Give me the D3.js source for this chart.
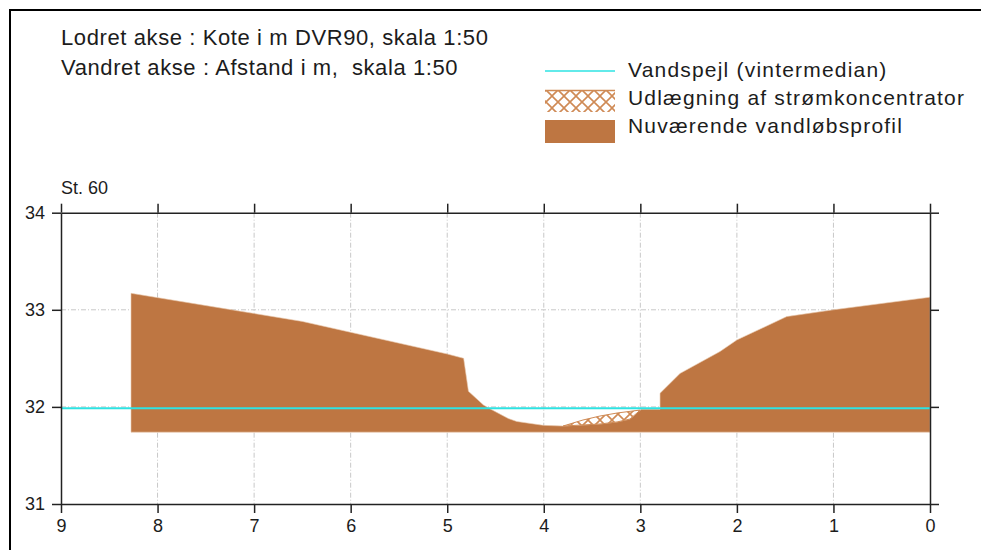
<!DOCTYPE html>
<html>
<head>
<meta charset="utf-8">
<script src="https://cdn.jsdelivr.net/npm/d3@7"></script>
<style>
  body { margin: 0; background: #fff; }
  text { font-family: "Liberation Sans", Arial, sans-serif; fill: #1c1c1c; white-space: pre; }
</style>
</head>
<body>
<svg id="chart" width="981" height="550"></svg>
<script>
// axis ticks
const xTicks = [9, 8, 7, 6, 5, 4, 3, 2, 1, 0];
const yTicks = [31, 32, 33, 34];

// current channel profile (distance m, kote m DVR90)
const profileDist = [8.275, 8.275, 6.50, 5.00, 4.83, 4.78, 4.625, 4.557, 4.367, 4.28, 4.14, 4.005,
  3.80, 3.594, 3.418, 3.241, 3.107, 3.024, 2.99, 2.796, 2.796, 2.589, 2.175, 2.0, 1.484, 1.0, 0.0, 0.0];
const profileKote = [31.74, 33.17, 32.88, 32.545, 32.50, 32.16, 32.02, 31.98, 31.88, 31.85, 31.83, 31.81,
  31.803, 31.814, 31.824, 31.845, 31.875, 31.947, 31.975, 31.975, 32.14, 32.345, 32.57, 32.69, 32.93, 33.0, 33.13, 31.74];

// flow concentrator fill (polygon: upper edge, then existing bed back)
const concDist = [3.80, 3.594, 3.418, 3.241, 3.076, 3.003, 3.024, 3.107, 3.241, 3.418, 3.594, 3.80];
const concKote = [31.803, 31.865, 31.906, 31.937, 31.958, 31.968, 31.947, 31.875, 31.845, 31.824, 31.814, 31.803];

// water level (winter median)
const waterKote = 31.985;

const headerLines = ['Lodret akse : Kote i m DVR90, skala 1:50', 'Vandret akse : Afstand i m,  skala 1:50'];
const legendLabels = ['Vandspejl (vintermedian)', 'Udlægning af strømkoncentrator', 'Nuværende vandløbsprofil'];
const stationLabel = 'St. 60';

const brown = '#be7642';
const hatchBrown = '#cf8a55';
const cyan = '#2ee3e3';

const svg = d3.select('#chart');

const x = d3.scaleLinear().domain([9, 0]).range([61, 930]);
const y = d3.scaleLinear().domain([31, 34]).range([504, 212.7]);

// hatch pattern
const defs = svg.append('defs');
const pat = defs.append('pattern')
  .attr('id', 'hatch')
  .attr('patternUnits', 'userSpaceOnUse')
  .attr('width', 12).attr('height', 12);
pat.append('rect').attr('width', 12).attr('height', 12).attr('fill', '#fff');
pat.append('path')
  .attr('d', 'M0,0L12,12M12,0L0,12')
  .attr('stroke', hatchBrown).attr('stroke-width', 1.6);

// outer frame
svg.append('rect')
  .attr('x', 10).attr('y', 10)
  .attr('width', 1000).attr('height', 600)
  .attr('fill', 'none')
  .attr('stroke', '#000').attr('stroke-width', 2);

// header text
svg.selectAll('.header')
  .data(headerLines)
  .join('text')
  .attr('class', 'header')
  .attr('x', 61)
  .attr('y', (d, i) => 45 + i * 30)
  .style('font-size', '22px')
  .style('letter-spacing', '0.6px')
  .text(d => d);

// legend
const lg = svg.append('g');
lg.append('line')
  .attr('x1', 545).attr('x2', 615).attr('y1', 71).attr('y2', 71)
  .attr('stroke', cyan).attr('stroke-width', 1.5);
lg.append('rect')
  .attr('x', 545).attr('y', 90).attr('width', 70).attr('height', 22)
  .attr('fill', 'url(#hatch)');
lg.append('line')
  .attr('x1', 545).attr('x2', 615).attr('y1', 90.5).attr('y2', 90.5)
  .attr('stroke', hatchBrown).attr('stroke-width', 1.5);
lg.append('rect')
  .attr('x', 545).attr('y', 120).attr('width', 70).attr('height', 23)
  .attr('fill', brown);
lg.selectAll('.legtext')
  .data(legendLabels)
  .join('text')
  .attr('class', 'legtext')
  .attr('x', 628)
  .attr('y', (d, i) => 77 + i * 28)
  .style('font-size', '21px')
  .style('letter-spacing', '1.2px')
  .text(d => d);

// station label
svg.append('text')
  .attr('x', 61).attr('y', 194)
  .style('font-size', '18px')
  .text(stationLabel);

// grid
const grid = svg.append('g')
  .attr('stroke', '#c8c8c8')
  .attr('stroke-width', 1)
  .attr('stroke-dasharray', '5,2,1,2');
grid.selectAll('.gx')
  .data(xTicks.slice(1, -1))
  .join('line')
  .attr('x1', d => x(d)).attr('x2', d => x(d))
  .attr('y1', y(34)).attr('y2', y(31));
grid.selectAll('.gy')
  .data(yTicks.slice(1, -1))
  .join('line')
  .attr('y1', d => y(d)).attr('y2', d => y(d))
  .attr('x1', x(9)).attr('x2', x(0));

// profile
const pts = profileDist.map((d, i) => [x(d), y(profileKote[i])]);
svg.append('path')
  .attr('d', d3.line()(pts) + 'Z')
  .attr('fill', brown)
  .attr('stroke', '#e9c9ae')
  .attr('stroke-width', 0.6);

// concentrator
const cpts = concDist.map((d, i) => [x(d), y(concKote[i])]);
svg.append('path')
  .attr('d', d3.line()(cpts) + 'Z')
  .attr('fill', 'url(#hatch)')
  .attr('stroke', hatchBrown)
  .attr('stroke-width', 1);

// water level
svg.append('line')
  .attr('x1', x(9)).attr('x2', x(0))
  .attr('y1', y(waterKote)).attr('y2', y(waterKote))
  .attr('stroke', cyan).attr('stroke-width', 2);

// axes
function styleAxis(g) {
  g.selectAll('path, line').attr('stroke', '#222').attr('stroke-width', 1.5);
  g.selectAll('text').style('font-family', '"Liberation Sans", Arial, sans-serif')
    .style('font-size', '18px').attr('fill', '#1c1c1c');
}

svg.append('g')
  .attr('transform', `translate(0,${y(31)})`)
  .call(d3.axisBottom(x).tickValues(xTicks).tickFormat(d3.format('d')).tickSize(9).tickSizeOuter(0).tickPadding(6))
  .call(styleAxis);
svg.append('g')
  .attr('transform', `translate(0,${y(34)})`)
  .call(d3.axisTop(x).tickValues(xTicks).tickFormat('').tickSize(9).tickSizeOuter(0))
  .call(styleAxis);
svg.append('g')
  .attr('transform', `translate(${x(9)},0)`)
  .call(d3.axisLeft(y).tickValues(yTicks).tickFormat(d3.format('d')).tickSize(9).tickSizeOuter(0).tickPadding(7))
  .call(styleAxis);
svg.append('g')
  .attr('transform', `translate(${x(0)},0)`)
  .call(d3.axisRight(y).tickValues(yTicks).tickFormat('').tickSize(9).tickSizeOuter(0))
  .call(styleAxis);
</script>
</body>
</html>
